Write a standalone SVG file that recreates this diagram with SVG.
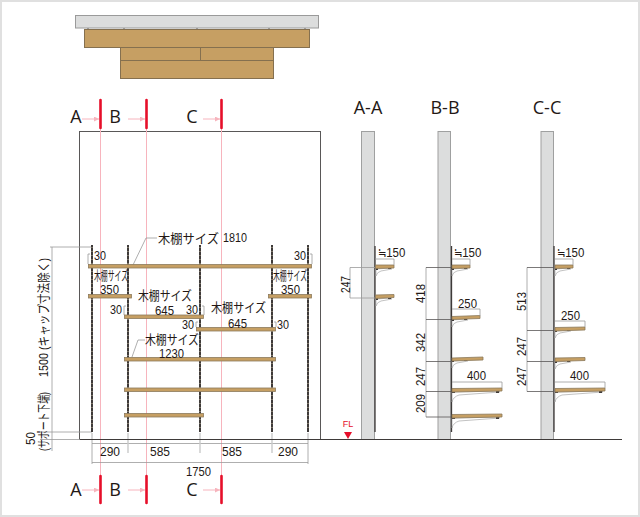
<svg xmlns="http://www.w3.org/2000/svg" xmlns:xlink="http://www.w3.org/1999/xlink" width="640" height="517" viewBox="0 0 640 517">
<style>
text{font-family:"Liberation Sans","Noto Sans CJK JP",sans-serif;fill:#231815;font-size:13.500px}
.j{font-size:13px}
.s{font-size:12px}
.ap{font-family:"Noto Sans CJK JP",sans-serif;font-size:12px}
.h{font-family:"Open Sans","Liberation Sans",sans-serif;font-size:18px;text-anchor:middle}
.m{text-anchor:middle}
.wood{fill:#c69f63;stroke:#85704f;stroke-width:1}
.shelf{fill:#c69f63;stroke:#8c7a5c;stroke-width:.8}
.dim{stroke:#9a9a9a;stroke-width:.8;fill:none}
.dk{stroke:#595757;stroke-width:.8;fill:none}
.pink{stroke:#f7b4bd;stroke-width:1;fill:none}
.red{stroke:#e60f2a;stroke-width:2.600;stroke-linecap:round;fill:none}
.up{stroke:#3e3a39;stroke-width:2;fill:none}
.upd{stroke:#7d7568;stroke-width:2;stroke-dasharray:1 3;fill:none}
.tail{stroke:#c9caca;stroke-width:1.400;fill:none}
.post{fill:#dcdddd;stroke:#9fa0a0;stroke-width:1}
.brk{fill:#fff;stroke:#a8a8a8;stroke-width:.7}
</style>
<defs>
<marker id="ah" markerWidth="6" markerHeight="6" refX="5" refY="2.500" orient="auto"><path d="M0 0L5 2.500L0 5z" fill="#f7b4bd"/></marker>
<g id="bs"><path class="brk" d="M0 7Q1 3 5 2L16 0L15 -1L0 0z"/><path d="M0 -1H2V1H0zM12 -1H15V0H12z" fill="#3e3a39"/></g>
<g id="bl"><path class="brk" d="M0 10Q1 5 7 3L48 0L47 -1L0 0z"/><path d="M0 -1H3V1H0zM44 -1H47V1H44z" fill="#3e3a39"/></g>
</defs>
<rect x="1" y="1" width="638" height="515" fill="#fff" stroke="#e0e0e0" stroke-width="2"/>

<g id="plan">
<rect x="75.500" y="15.500" width="243" height="12.500" fill="#dcdddd" stroke="#9a9a9a"/>
<path d="M88 28v1.500M124 28v1.500M197 28v1.500M269 28v1.500M305 28v1.500" stroke="#9a9a9a" stroke-width="2"/>
<rect class="wood" x="84.500" y="29.500" width="225" height="18"/>
<rect class="wood" x="120.500" y="47.500" width="153" height="13"/>
<path class="wood" d="M200.500 47.500V60.500"/>
<rect class="wood" x="120.500" y="60.500" width="153" height="18"/>
</g>

<g id="elevation">
<rect x="79.500" y="131.500" width="241" height="308" fill="none" stroke="#595757"/>
</g>

<g id="section-a">
<rect class="post" x="361.500" y="131.500" width="13" height="308"/>
<path d="M375 246V432" stroke="#3e3a39" stroke-width="1.300"/>
<use xlink:href="#bs" x="376" y="269"/><use xlink:href="#bs" x="376" y="299"/>
<path class="shelf" d="M375.500 265H394V268L375.500 268.500z"/>
<path class="shelf" d="M375.500 295L394 294.500V297.500L375.500 298.500z"/>
</g>
<g id="section-b">
<rect class="post" x="438" y="131.500" width="12.500" height="308"/>
<path d="M451.500 246V432" stroke="#3e3a39" stroke-width="1.300"/>
<use xlink:href="#bs" x="452" y="269"/><use xlink:href="#bs" x="452" y="320"/><use xlink:href="#bs" x="452" y="361"/>
<use xlink:href="#bl" x="452" y="392"/><use xlink:href="#bl" x="452" y="418"/>
<path class="shelf" d="M452 265H470V268L452 268.500z"/>
<path class="shelf" d="M452 316.500L480 315.500V318.500L452 319.500z"/>
<path class="shelf" d="M452 358L483 357V360L452 361z"/>
<path class="shelf" d="M452 388.500L502 388V391L452 392z"/>
<path class="shelf" d="M452 414.500L502 414V417L452 418z"/>
</g>
<g id="section-c">
<rect class="post" x="541" y="131.500" width="12.500" height="308"/>
<path d="M554 246V432" stroke="#3e3a39" stroke-width="1.300"/>
<use xlink:href="#bs" x="555" y="269"/><use xlink:href="#bs" x="555" y="331"/><use xlink:href="#bs" x="555" y="362"/><use xlink:href="#bl" x="555" y="392"/>
<path class="shelf" d="M555 265H573V268L555 268.500z"/>
<path class="shelf" d="M555 327.500L585 327V330L555 331z"/>
<path class="shelf" d="M555 358L585 357.500V360.500L555 361.500z"/>
<path class="shelf" d="M555 388.500L605 388V391L555 392z"/>
</g>

<g id="connectors">
<path class="pink" d="M100.500 128V475M146.500 128V475M221.500 128V475"/>
<path class="pink" marker-end="url(#ah)" d="M82 119H99"/>
<path class="pink" marker-end="url(#ah)" d="M128 119H145"/>
<path class="pink" marker-end="url(#ah)" d="M203 119H220"/>
<path class="pink" marker-end="url(#ah)" d="M82 490H99"/>
<path class="pink" marker-end="url(#ah)" d="M128 490H145"/>
<path class="pink" marker-end="url(#ah)" d="M203 490H220"/>
<path class="dim" d="M50 247H92M52 247V451M40 432H92M40 439.500H80"/>
<path class="dim" d="M92 443.500H308M92 462.500H308M92 433V464M308 433V464"/>
<path class="tail" d="M128 433V453M200 433V453M272 433V453"/>
<path class="dim" d="M157 238H146L133 265M145 340H138L132 357"/>
<path class="dim" d="M88 264V254H90M312 264V254H310M124 315V306H126M204 315V306H202M196 327V322H198M276 327V322H274"/>
<path class="dim" d="M350 267.500V298M350 267.500H375M350 298H375"/>
<path class="dim" d="M375 259H394V265M452 259H470V265M555 259H573V265M452 309H480V316M555 321H585V327M452 382H502V388M555 382H605V388"/>
<path class="dim" d="M426 267.500V417M527 267.500V391.500"/>
<path class="dk" d="M426 267.500H451M426 319.500H451M426 361.500H451M426 391.500H451M426 417H451"/>
<path class="dk" d="M527 267.500H554M527 330.500H554M527 361.500H554M527 391.500H554"/>
<path d="M80 439.500H622" stroke="#3e3a39" stroke-width="1.100"/>
</g>

<g id="uprights">
<path class="up" d="M92 245V432M128 245V432M200 245V432M272 245V432M308 245V432"/>
<path class="upd" d="M92 247V430M128 247V430M200 247V430M272 247V430M308 247V430"/>
</g>

<g id="shelves">
<rect class="shelf" x="88.500" y="264.500" width="223" height="3.500"/>
<rect class="shelf" x="88.500" y="294.500" width="43" height="3.500"/>
<rect class="shelf" x="268.500" y="294.500" width="43" height="3.500"/>
<rect class="shelf" x="124.500" y="315" width="79" height="3.500"/>
<rect class="shelf" x="196.500" y="327.500" width="79" height="3.500"/>
<rect class="shelf" x="124.500" y="357.500" width="151" height="3.500"/>
<rect class="shelf" x="124.500" y="388" width="151" height="3.500"/>
<rect class="shelf" x="124.500" y="413.500" width="79" height="3.500"/>
</g>

<g id="markers" class="red">
<path d="M100.500 100V128M146.500 100V128M221.500 100V128M100.500 476V503M146.500 476V503M221.500 476V503"/>
</g>

<g id="floor-mark">
<path d="M344 432H352L348 439z" fill="#e60f2a"/>
<text x="348" y="427" class="m" style="fill:#e60f2a;font-size:9px">FL</text>
</g>

<g id="labels">
<text class="h" x="76" y="123">A</text><text class="h" x="115" y="123">B</text><text class="h" x="192" y="123">C</text>
<text class="h" x="76" y="496">A</text><text class="h" x="115" y="496">B</text><text class="h" x="192" y="496">C</text>
<text class="h" x="368" y="114">A-A</text><text class="h" x="445" y="114">B-B</text><text class="h" x="547" y="114">C-C</text>

<text class="j" x="158" y="243" textLength="61" lengthAdjust="spacingAndGlyphs">木棚サイズ</text>
<text class="s" x="223" y="242" textLength="24" lengthAdjust="spacingAndGlyphs">1810</text>
<text class="j" x="94" y="280" textLength="34" lengthAdjust="spacingAndGlyphs">木棚サイズ</text>
<text x="100" y="294" textLength="19" lengthAdjust="spacingAndGlyphs">350</text>
<text class="j" x="273" y="280" textLength="34" lengthAdjust="spacingAndGlyphs">木棚サイズ</text>
<text x="281" y="294" textLength="19" lengthAdjust="spacingAndGlyphs">350</text>
<text class="j" x="138" y="300" textLength="54" lengthAdjust="spacingAndGlyphs">木棚サイズ</text>
<text x="155" y="315" textLength="19" lengthAdjust="spacingAndGlyphs">645</text>
<text class="j" x="211" y="312" textLength="55" lengthAdjust="spacingAndGlyphs">木棚サイズ</text>
<text x="228" y="328" textLength="19" lengthAdjust="spacingAndGlyphs">645</text>
<text class="j" x="145" y="344" textLength="54" lengthAdjust="spacingAndGlyphs">木棚サイズ</text>
<text x="159" y="358" textLength="25" lengthAdjust="spacingAndGlyphs">1230</text>

<text x="94" y="260" textLength="12" lengthAdjust="spacingAndGlyphs">30</text>
<text x="294" y="260" textLength="12" lengthAdjust="spacingAndGlyphs">30</text>
<text x="110" y="314" textLength="12" lengthAdjust="spacingAndGlyphs">30</text>
<text x="186" y="314" textLength="12" lengthAdjust="spacingAndGlyphs">30</text>
<text x="182" y="329" textLength="12" lengthAdjust="spacingAndGlyphs">30</text>
<text x="277" y="329" textLength="12" lengthAdjust="spacingAndGlyphs">30</text>

<text x="100" y="456" textLength="20" lengthAdjust="spacingAndGlyphs">290</text>
<text x="150" y="456" textLength="20" lengthAdjust="spacingAndGlyphs">585</text>
<text x="222" y="456" textLength="20" lengthAdjust="spacingAndGlyphs">585</text>
<text x="278" y="456" textLength="20" lengthAdjust="spacingAndGlyphs">290</text>
<text x="186" y="476" textLength="25" lengthAdjust="spacingAndGlyphs">1750</text>

<text transform="translate(48 377) rotate(-90)" textLength="24" lengthAdjust="spacingAndGlyphs">1500</text>
<text class="j" transform="translate(48 350) rotate(-90)" textLength="92" lengthAdjust="spacingAndGlyphs">(キャップ寸法除く)</text>
<text transform="translate(35 445) rotate(-90)" textLength="13" lengthAdjust="spacingAndGlyphs">50</text>
<text class="j" transform="translate(48 451) rotate(-90)" textLength="59" lengthAdjust="spacingAndGlyphs">(サポート下端)</text>

<text transform="translate(378 257) scale(.85 1)"><tspan class="ap">≒</tspan>150</text>
<text transform="translate(454 257) scale(.85 1)"><tspan class="ap">≒</tspan>150</text>
<text transform="translate(557 257) scale(.85 1)"><tspan class="ap">≒</tspan>150</text>
<text x="458" y="308" textLength="19" lengthAdjust="spacingAndGlyphs">250</text>
<text x="467" y="380" textLength="19" lengthAdjust="spacingAndGlyphs">400</text>
<text x="561" y="320" textLength="19" lengthAdjust="spacingAndGlyphs">250</text>
<text x="570" y="380" textLength="19" lengthAdjust="spacingAndGlyphs">400</text>

<text transform="translate(350 293) rotate(-90)" textLength="17" lengthAdjust="spacingAndGlyphs">247</text>
<text transform="translate(425 303) rotate(-90)" textLength="19" lengthAdjust="spacingAndGlyphs">418</text>
<text transform="translate(425 352) rotate(-90)" textLength="19" lengthAdjust="spacingAndGlyphs">342</text>
<text transform="translate(425 386) rotate(-90)" textLength="19" lengthAdjust="spacingAndGlyphs">247</text>
<text transform="translate(425 413) rotate(-90)" textLength="19" lengthAdjust="spacingAndGlyphs">209</text>
<text transform="translate(526 311) rotate(-90)" textLength="19" lengthAdjust="spacingAndGlyphs">513</text>
<text transform="translate(526 356) rotate(-90)" textLength="19" lengthAdjust="spacingAndGlyphs">247</text>
<text transform="translate(526 386) rotate(-90)" textLength="19" lengthAdjust="spacingAndGlyphs">247</text>
</g>
</svg>
